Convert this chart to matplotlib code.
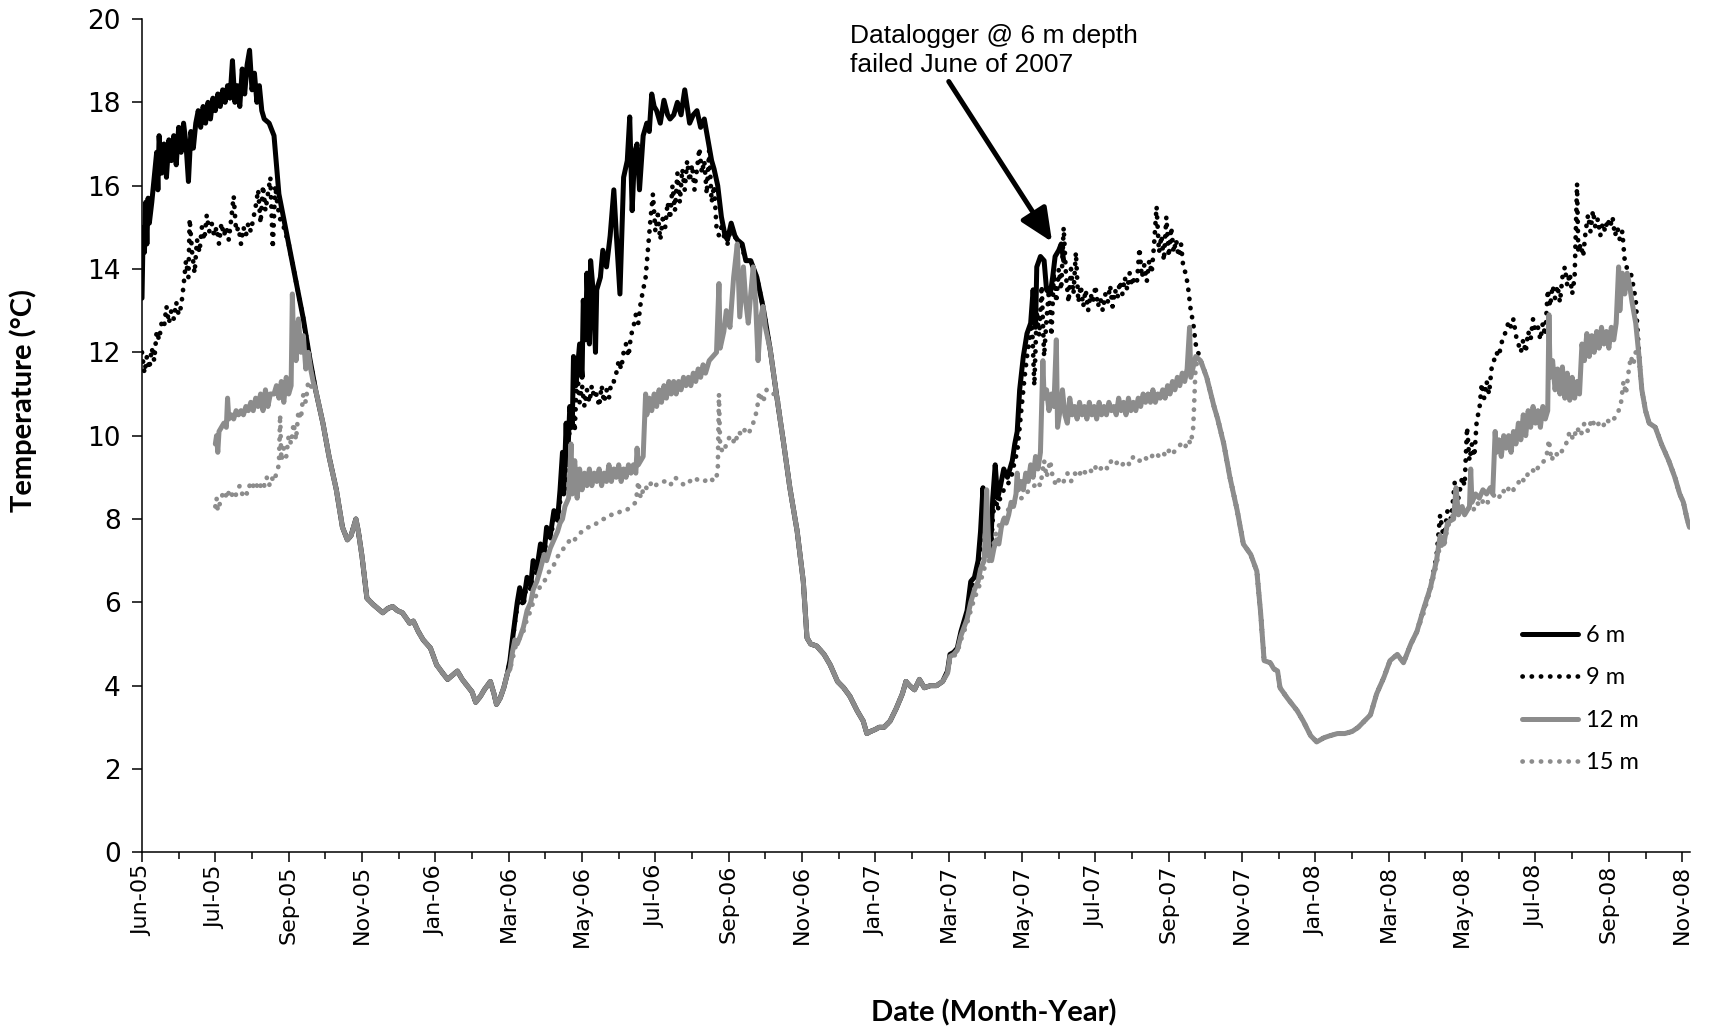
import numpy as np
import pandas as pd
import matplotlib
matplotlib.use("Agg")
import matplotlib.pyplot as plt
import matplotlib.dates as mdates
from matplotlib.lines import Line2D

# ---------------------------------------------------------------- data
START = "2005-06-01"          # day 0 of the record
X_END_DAY = 1266.4            # right end of the date axis (days after START)
TICK_STEP_DAYS = 60           # Excel-style fixed step of the date axis

series_labels = ["6 m", "9 m", "12 m", "15 m"]
y_ticks = [0, 2, 4, 6, 8, 10, 12, 14, 16, 18, 20]

# readings: (days after 2005-06-01, temperature in deg C)
# --- summer / fall 2005 (series separate)
seg_6m_2005 = [(0, 13.3), (1, 15.0), (2, 14.4), (3, 15.6), (4, 14.6), (5, 15.7), (6, 15.1), (8, 15.6),
               (10, 16.2), (12, 16.8), (13, 15.9), (14, 17.2), (16, 16.3), (18, 17.0), (20, 16.2),
               (22, 17.1), (24, 16.6), (26, 17.2), (28, 16.5), (30, 17.4), (32, 16.8), (34, 17.5),
               (36, 17.0), (38, 16.1), (40, 17.3), (42, 16.9), (44, 17.5), (46, 17.8), (48, 17.4),
               (50, 17.9), (52, 17.5), (54, 18.0), (56, 17.6), (58, 18.1), (60, 17.8), (62, 18.2),
               (64, 17.9), (66, 18.3), (68, 18.0), (70, 18.4), (72, 18.1), (74, 19.0), (76, 18.0),
               (78, 18.4), (80, 17.9), (82, 18.8), (84, 18.2), (86, 18.9), (88, 19.25), (90, 18.3),
               (92, 18.7), (94, 18.0), (96, 18.4), (98, 17.8), (100, 17.6), (104, 17.5), (108, 17.2),
               (110, 16.5), (112, 15.8), (116, 15.2), (120, 14.6), (124, 14.0), (128, 13.4),
               (132, 12.8), (137, 11.9), (142, 11.1)]
seg_9m_2005 = [(0, 12.0), (2, 11.5), (4, 11.9), (6, 11.6), (8, 12.1), (10, 11.8), (12, 12.5), (14, 12.3),
               (16, 12.7), (18, 12.6), (20, 13.1), (22, 12.7), (24, 13.0), (26, 12.8), (28, 13.2),
               (30, 12.9), (32, 13.1), (34, 13.6), (36, 14.2), (38, 13.8), (39, 15.2), (41, 14.4),
               (43, 13.9), (45, 14.7), (47, 14.4), (49, 15.0), (51, 14.7), (53, 15.3), (55, 14.9),
               (57, 15.1), (59, 14.8), (61, 15.0), (63, 14.6), (65, 15.1), (67, 14.8), (69, 15.0),
               (71, 14.7), (73, 15.2), (75, 15.75), (77, 14.9), (79, 15.0), (81, 14.6), (83, 15.0),
               (85, 14.8), (87, 15.1), (89, 14.9), (91, 15.2), (93, 15.5), (95, 15.9), (97, 15.1),
               (99, 16.0), (101, 15.4), (103, 15.8), (105, 16.2), (107, 14.5), (109, 16.0),
               (111, 15.5), (113, 15.2), (116, 15.0), (120, 14.6), (124, 14.0), (128, 13.4),
               (132, 12.8), (137, 11.9), (142, 11.1)]
seg_12m_2005 = [(60, 9.8), (61, 10.0), (62, 9.6), (63, 10.1), (65, 10.2), (67, 10.3), (69, 10.2),
                (70, 10.9), (71, 10.4), (73, 10.5), (75, 10.4), (77, 10.6), (79, 10.5), (81, 10.6),
                (83, 10.5), (85, 10.7), (87, 10.6), (89, 10.8), (91, 10.6), (93, 10.9), (95, 10.7),
                (97, 11.0), (99, 10.6), (101, 11.1), (103, 10.7), (105, 11.0), (108, 11.0),
                (110, 11.2), (112, 10.9), (114, 11.3), (116, 10.8), (118, 11.4), (120, 11.0),
                (122, 11.2), (123, 13.4), (124, 12.2), (125, 12.7), (126, 11.8), (128, 12.8),
                (130, 12.0), (132, 12.4), (134, 11.6), (136, 12.0), (138, 11.6), (140, 11.3),
                (142, 11.1)]
seg_15m_2005 = [(60, 8.3), (61, 8.5), (62, 8.2), (64, 8.4), (66, 8.6), (68, 8.5), (70, 8.7), (72, 8.5),
                (74, 8.6), (76, 8.5), (78, 8.7), (80, 8.8), (82, 8.6), (84, 8.7), (86, 8.6), (88, 8.8),
                (90, 8.7), (92, 8.9), (94, 8.8), (96, 8.7), (98, 8.9), (100, 8.8), (102, 9.0),
                (104, 8.8), (106, 9.0), (108, 8.9), (110, 9.1), (112, 9.3), (113, 10.5), (114, 9.4),
                (116, 9.7), (118, 9.5), (120, 10.0), (122, 9.8), (124, 10.3), (126, 9.9),
                (128, 10.6), (130, 10.4), (132, 11.0), (134, 10.8), (136, 11.3), (138, 11.2),
                (140, 11.1), (142, 11.1)]

# --- winter 2005-06 (all loggers on one line)
mix_winter_0506 = [(145, 10.7), (148, 10.3), (153, 9.5), (159, 8.7), (164, 7.8), (168, 7.5), (171, 7.6),
                   (175, 8.0), (177, 7.7), (180, 7.1), (184, 6.1), (189, 5.95), (193, 5.85),
                   (197, 5.75), (201, 5.85), (205, 5.9), (209, 5.8), (213, 5.75), (219, 5.5),
                   (222, 5.55), (226, 5.3), (230, 5.1), (236, 4.9), (241, 4.5), (246, 4.3),
                   (250, 4.15), (254, 4.25), (258, 4.35), (262, 4.15), (266, 4.0), (270, 3.85),
                   (273, 3.6), (277, 3.75), (280, 3.9), (285, 4.1), (288, 3.8), (290, 3.55),
                   (293, 3.7), (296, 3.95), (299, 4.3)]

# --- spring / summer 2006
seg_6m_2006 = [(301, 4.6), (303, 5.1), (305, 5.55), (307, 6.0), (309, 6.35), (312, 6.0), (315, 6.6),
               (318, 6.4), (320, 7.0), (323, 6.8), (326, 7.4), (329, 7.2), (331, 7.8), (334, 7.6),
               (337, 8.2), (340, 8.0), (342, 8.7), (344, 9.6), (345, 8.6), (347, 10.3), (348, 9.3),
               (350, 10.7), (352, 10.2), (353, 11.9), (355, 11.2), (358, 12.2), (360, 11.4),
               (361, 13.25), (363, 12.3), (364, 13.9), (366, 12.2), (367, 14.2), (369, 13.5),
               (371, 12.0), (372, 13.5), (375, 13.8), (377, 14.45), (380, 14.05), (383, 14.8),
               (386, 15.9), (388, 14.85), (391, 13.4), (394, 16.2), (397, 16.6), (399, 17.65),
               (401, 15.4), (403, 16.8), (405, 17.0), (407, 15.9), (410, 17.2), (413, 17.5),
               (415, 17.3), (417, 18.2), (419, 17.9), (421, 17.8), (424, 17.5), (427, 18.05),
               (430, 17.7), (432, 17.6), (435, 17.7), (438, 18.0), (441, 17.7), (444, 18.3),
               (446, 17.9), (448, 17.5), (451, 17.7), (454, 17.8), (457, 17.4), (460, 17.6),
               (463, 17.1), (466, 16.6), (468, 16.4), (471, 16.0), (474, 15.25), (477, 14.8),
               (479, 14.7), (482, 15.1), (485, 14.8), (487, 14.7), (491, 14.6), (494, 14.2),
               (498, 14.2), (503, 13.8), (508, 13.1), (514, 12.05), (519, 11.0)]
seg_9m_2006 = [(301, 4.6), (303, 5.0), (305, 5.5), (307, 5.9), (309, 6.2), (312, 5.9), (315, 6.5),
               (318, 6.3), (320, 6.8), (323, 6.7), (326, 7.2), (329, 7.1), (331, 7.6), (334, 7.5),
               (337, 8.0), (340, 7.9), (342, 8.4), (344, 9.2), (346, 8.7), (348, 9.5), (350, 10.2),
               (352, 10.8), (354, 10.1), (356, 11.6), (358, 10.8), (360, 11.2), (362, 10.7),
               (364, 11.1), (366, 10.8), (368, 11.2), (370, 10.9), (372, 11.0), (374, 10.7),
               (376, 11.2), (378, 10.8), (380, 11.1), (382, 10.9), (384, 11.3), (386, 11.3),
               (388, 11.5), (390, 11.8), (392, 11.6), (394, 12.0), (396, 12.2), (398, 11.9),
               (400, 12.4), (402, 12.6), (404, 12.9), (406, 12.7), (408, 13.2), (410, 13.5),
               (412, 13.8), (414, 14.5), (416, 15.2), (418, 15.8), (420, 14.9), (422, 15.3),
               (424, 14.7), (426, 15.2), (428, 15.0), (430, 15.6), (432, 15.2), (434, 16.0),
               (436, 15.4), (438, 16.3), (440, 15.6), (442, 16.4), (444, 15.9), (446, 16.6),
               (448, 16.1), (450, 16.5), (452, 15.9), (454, 16.4), (456, 16.9), (458, 16.3),
               (460, 16.6), (462, 15.8), (464, 16.85), (466, 15.6), (468, 16.0), (470, 15.0),
               (472, 14.8), (474, 15.0), (477, 14.7), (479, 14.6), (482, 15.0), (485, 14.8),
               (487, 14.6), (491, 14.5), (494, 14.2), (498, 14.2), (503, 13.8), (508, 13.1),
               (514, 12.05), (519, 11.0)]
seg_12m_2006 = [(301, 4.4), (303, 4.8), (305, 5.1), (307, 5.0), (309, 5.15), (312, 5.4), (315, 5.8),
                (318, 6.0), (320, 6.3), (323, 6.5), (326, 6.8), (329, 7.15), (331, 7.0), (334, 7.3),
                (337, 7.5), (340, 7.7), (342, 7.9), (344, 8.0), (346, 8.3), (349, 8.5), (351, 9.8),
                (352, 8.6), (354, 9.4), (356, 8.5), (358, 9.2), (360, 8.7), (362, 9.1), (364, 8.8),
                (366, 9.2), (368, 8.8), (370, 9.1), (372, 8.9), (374, 9.2), (376, 8.8), (378, 9.1),
                (380, 8.9), (382, 9.3), (384, 8.9), (386, 9.2), (388, 9.0), (390, 9.3), (392, 8.9),
                (394, 9.2), (396, 9.0), (398, 9.3), (400, 9.1), (402, 9.3), (404, 9.1), (405, 9.7),
                (406, 9.3), (408, 9.4), (410, 9.5), (412, 11.0), (413, 10.5), (415, 10.9),
                (417, 10.6), (419, 11.0), (421, 10.7), (423, 11.1), (425, 10.8), (427, 11.2),
                (429, 10.9), (431, 11.3), (433, 11.0), (435, 11.3), (437, 11.0), (439, 11.3),
                (441, 11.1), (443, 11.4), (445, 11.2), (447, 11.4), (449, 11.2), (451, 11.5),
                (453, 11.3), (455, 11.6), (457, 11.4), (459, 11.7), (461, 11.5), (464, 11.8),
                (467, 11.9), (470, 12.0), (472, 13.65), (473, 12.1), (476, 12.5), (478, 13.0),
                (481, 12.6), (484, 13.8), (487, 14.6), (489, 12.85), (492, 14.05), (494, 13.2),
                (496, 12.7), (498, 13.4), (500, 14.05), (502, 13.2), (504, 11.8), (506, 12.8),
                (508, 13.1), (510, 12.6), (514, 12.05), (519, 11.0)]
seg_15m_2006 = [(301, 4.4), (303, 4.6), (305, 4.9), (307, 5.0), (309, 5.15), (312, 5.3), (315, 5.6),
                (318, 5.8), (320, 6.0), (323, 6.2), (326, 6.4), (329, 6.5), (331, 6.6), (334, 6.8),
                (337, 6.9), (340, 7.1), (342, 7.15), (345, 7.3), (348, 7.4), (350, 7.5), (353, 7.45),
                (356, 7.6), (360, 7.7), (364, 7.8), (368, 7.8), (372, 7.9), (376, 8.0), (380, 8.0),
                (384, 8.1), (388, 8.1), (392, 8.2), (396, 8.2), (400, 8.3), (404, 8.4), (406, 8.9),
                (408, 8.5), (411, 8.8), (414, 8.7), (417, 8.9), (420, 8.8), (424, 8.9), (428, 8.9),
                (432, 8.8), (436, 9.0), (440, 8.9), (444, 8.8), (448, 8.9), (452, 9.0), (456, 8.9),
                (460, 8.9), (464, 9.0), (468, 8.9), (471, 9.1), (472, 11.0), (473, 9.7), (476, 9.6),
                (479, 9.9), (482, 10.0), (485, 9.8), (488, 10.1), (491, 10.0), (494, 10.2),
                (497, 10.1), (500, 10.3), (503, 10.6), (505, 11.05), (508, 10.8), (511, 11.1),
                (514, 11.0), (517, 11.0), (520, 10.9)]

# --- winter 2006-07 (all loggers on one line)
mix_winter_0607 = [(525, 9.8), (530, 8.75), (536, 7.7), (541, 6.5), (544, 5.15), (547, 5.0), (552, 4.95),
                   (558, 4.75), (563, 4.5), (569, 4.1), (574, 3.95), (579, 3.75), (585, 3.4),
                   (590, 3.15), (593, 2.85), (596, 2.9), (600, 2.95), (603, 3.0), (607, 3.0),
                   (612, 3.15), (617, 3.45), (622, 3.8), (625, 4.1), (628, 4.0), (632, 3.9),
                   (636, 4.15), (640, 3.95), (645, 4.0), (650, 4.0), (655, 4.1)]

# --- spring / summer 2007 (6 m logger fails in June 2007)
seg_6m_2007 = [(659, 4.35), (661, 4.75), (664, 4.8), (667, 4.9), (670, 5.3), (675, 5.8), (678, 6.5),
               (681, 6.6), (684, 7.0), (686, 7.7), (688, 8.75), (690, 7.7), (692, 7.3), (694, 7.15),
               (696, 8.5), (698, 9.3), (700, 8.5), (702, 8.75), (705, 9.2), (708, 9.0), (712, 9.4),
               (714, 9.8), (716, 10.1), (718, 11.1), (721, 11.9), (724, 12.45), (727, 12.7),
               (729, 13.5), (731, 12.6), (732, 14.05), (735, 14.3), (738, 14.2), (740, 13.5),
               (743, 13.4), (745, 13.8), (747, 14.3), (750, 14.45), (752, 14.6), (754, 14.2)]
seg_9m_2007 = [(659, 4.3), (661, 4.7), (664, 4.75), (667, 4.85), (670, 5.2), (675, 5.7), (678, 6.3),
               (681, 6.5), (684, 6.8), (686, 7.3), (688, 8.3), (690, 7.5), (692, 7.2), (694, 7.0),
               (696, 8.0), (698, 8.6), (700, 8.2), (702, 8.5), (705, 8.7), (708, 8.8), (712, 9.1),
               (714, 9.4), (716, 9.6), (718, 10.2), (720, 10.8), (722, 11.4), (724, 11.9),
               (726, 12.3), (728, 12.8), (730, 11.2), (732, 13.0), (734, 12.4), (736, 13.6),
               (738, 11.9), (740, 12.8), (742, 13.5), (744, 12.4), (746, 13.9), (748, 13.2),
               (750, 14.0), (752, 13.5), (754, 15.0), (756, 13.8), (758, 13.2), (760, 14.0),
               (762, 13.4), (764, 14.4), (766, 13.2), (768, 13.6), (770, 13.1), (772, 13.5),
               (774, 13.0), (776, 13.4), (778, 13.2), (780, 13.6), (782, 13.1), (784, 13.3),
               (786, 13.0), (788, 13.4), (790, 13.2), (792, 13.6), (794, 13.1), (796, 13.5),
               (798, 13.3), (800, 13.7), (802, 13.4), (804, 13.8), (806, 13.5), (808, 13.9),
               (810, 13.6), (812, 13.8), (814, 13.7), (816, 14.5), (818, 13.8), (820, 14.1),
               (822, 13.7), (824, 14.2), (826, 13.9), (828, 14.6), (830, 15.5), (832, 14.4),
               (834, 14.8), (836, 14.2), (838, 15.25), (840, 14.3), (842, 15.0), (844, 14.4),
               (846, 14.7), (848, 14.3), (850, 14.6), (852, 14.0), (854, 13.9), (856, 13.5),
               (858, 13.0), (860, 12.7), (862, 12.2)]
seg_12m_2007 = [(659, 4.3), (661, 4.7), (664, 4.75), (667, 4.85), (670, 5.2), (675, 5.6), (678, 6.0),
                (681, 6.3), (684, 6.5), (686, 6.8), (689, 7.0), (691, 8.7), (693, 7.1), (695, 7.0),
                (697, 7.3), (699, 7.5), (701, 7.4), (703, 7.8), (705, 8.0), (707, 7.9), (709, 8.1),
                (711, 8.4), (713, 8.3), (715, 8.6), (716, 9.1), (717, 8.7), (719, 8.9), (721, 8.7),
                (723, 9.1), (725, 8.9), (727, 9.3), (729, 9.0), (731, 9.5), (733, 9.2), (735, 9.6),
                (737, 11.8), (738, 10.9), (740, 11.1), (742, 10.6), (744, 11.0), (746, 10.7),
                (748, 12.3), (749, 10.2), (751, 10.6), (753, 11.1), (755, 10.5), (757, 10.3),
                (759, 10.9), (761, 10.5), (763, 10.7), (765, 10.4), (767, 10.8), (769, 10.5),
                (771, 10.7), (773, 10.4), (775, 10.8), (777, 10.5), (779, 10.7), (781, 10.4),
                (783, 10.8), (785, 10.5), (787, 10.7), (789, 10.5), (791, 10.8), (793, 10.6),
                (795, 10.7), (797, 10.5), (799, 10.9), (801, 10.6), (803, 10.8), (805, 10.5),
                (807, 10.9), (809, 10.6), (811, 10.8), (813, 10.6), (815, 10.9), (817, 10.7),
                (819, 11.0), (821, 10.8), (823, 11.0), (825, 10.8), (827, 11.1), (829, 10.8),
                (831, 11.0), (833, 10.9), (835, 11.1), (837, 10.9), (839, 11.2), (841, 11.0),
                (843, 11.3), (845, 11.1), (847, 11.4), (849, 11.2), (851, 11.5), (853, 11.3),
                (855, 11.6), (857, 12.6), (858, 11.4), (860, 11.65), (862, 11.9)]
seg_15m_2007 = [(659, 4.3), (661, 4.6), (664, 4.7), (667, 4.8), (670, 5.1), (675, 5.5), (678, 5.8),
                (681, 6.1), (684, 6.3), (687, 6.6), (690, 6.9), (693, 7.0), (696, 7.3), (699, 7.7),
                (702, 7.9), (705, 8.0), (708, 8.2), (711, 8.3), (714, 8.4), (717, 8.5), (720, 8.5),
                (723, 8.6), (726, 8.7), (729, 8.75), (732, 8.9), (735, 8.8), (738, 9.4), (740, 9.0),
                (743, 9.4), (745, 9.0), (748, 8.8), (751, 9.0), (754, 8.9), (757, 9.1), (760, 8.9),
                (763, 9.1), (766, 9.0), (769, 9.2), (772, 9.1), (775, 9.2), (778, 9.1), (781, 9.3),
                (784, 9.2), (787, 9.3), (790, 9.2), (793, 9.4), (796, 9.3), (799, 9.4), (802, 9.3),
                (805, 9.4), (808, 9.3), (811, 9.5), (814, 9.4), (817, 9.4), (820, 9.5), (823, 9.4),
                (826, 9.5), (829, 9.6), (832, 9.5), (835, 9.6), (838, 9.5), (841, 9.7), (844, 9.6),
                (847, 9.7), (850, 9.8), (853, 9.7), (856, 9.9), (858, 9.8), (860, 10.2), (862, 11.7)]

# --- winter 2007-08 (remaining loggers on one line)
mix_winter_0708 = [(866, 11.8), (871, 11.4), (877, 10.7), (880, 10.4), (885, 9.8), (890, 9.0), (896, 8.2),
                   (901, 7.4), (907, 7.15), (912, 6.75), (915, 5.8), (918, 4.6), (923, 4.55),
                   (926, 4.4), (929, 4.35), (931, 3.95), (937, 3.7), (941, 3.55), (945, 3.4),
                   (950, 3.15), (956, 2.8), (961, 2.65), (967, 2.75), (972, 2.8), (978, 2.85),
                   (984, 2.85), (990, 2.9), (995, 3.0), (1000, 3.15), (1005, 3.3), (1010, 3.8),
                   (1016, 4.2), (1021, 4.6), (1027, 4.75), (1032, 4.55), (1038, 5.0), (1043, 5.3)]

# --- spring / summer 2008
seg_9m_2008 = [(1048, 5.8), (1054, 6.35), (1059, 7.1), (1062, 8.1), (1065, 7.5), (1068, 8.2), (1071, 8.0),
               (1074, 8.9), (1077, 8.5), (1080, 9.0), (1082, 8.8), (1084, 10.2), (1086, 9.4),
               (1088, 9.8), (1090, 9.5), (1092, 10.4), (1094, 10.6), (1096, 11.25), (1098, 10.9),
               (1100, 11.3), (1102, 11.0), (1104, 11.6), (1106, 11.8), (1108, 12.0), (1110, 11.9),
               (1112, 12.2), (1114, 12.4), (1116, 12.5), (1118, 12.75), (1120, 12.6), (1122, 12.8),
               (1124, 12.4), (1126, 12.2), (1128, 12.0), (1130, 12.3), (1132, 12.0), (1134, 12.5),
               (1136, 12.3), (1138, 12.8), (1140, 12.5), (1142, 12.6), (1144, 12.3), (1146, 12.7),
               (1148, 12.4), (1150, 13.5), (1152, 13.1), (1154, 13.6), (1156, 13.3), (1158, 13.6),
               (1160, 13.2), (1162, 13.8), (1164, 14.05), (1166, 13.6), (1168, 13.9), (1170, 13.4),
               (1172, 13.8), (1174, 16.05), (1175, 14.4), (1177, 14.6), (1179, 14.3), (1181, 14.9),
               (1183, 15.3), (1185, 14.9), (1187, 15.4), (1189, 15.0), (1191, 15.2), (1193, 14.8),
               (1195, 15.1), (1197, 14.9), (1199, 15.2), (1201, 15.0), (1203, 15.25), (1205, 14.8),
               (1207, 15.0), (1209, 14.7), (1211, 14.9), (1213, 14.2), (1215, 14.0), (1218, 13.9),
               (1220, 13.6), (1222, 13.25)]
seg_12m_2008 = [(1048, 5.8), (1054, 6.35), (1059, 7.0), (1062, 7.6), (1065, 7.4), (1068, 7.9), (1070, 7.95),
                (1073, 8.0), (1075, 8.75), (1077, 8.1), (1080, 8.3), (1082, 8.1), (1084, 8.2),
                (1086, 8.3), (1087, 9.2), (1088, 8.4), (1091, 8.6), (1094, 8.5), (1097, 8.7),
                (1100, 8.6), (1103, 8.75), (1105, 8.6), (1107, 10.1), (1108, 9.6), (1110, 9.9),
                (1112, 9.5), (1114, 10.0), (1116, 9.7), (1118, 10.0), (1120, 9.6), (1122, 10.1),
                (1124, 9.8), (1126, 10.3), (1128, 9.9), (1130, 10.5), (1132, 10.0), (1134, 10.6),
                (1136, 10.2), (1138, 10.7), (1140, 10.3), (1142, 10.6), (1144, 10.2), (1146, 10.7),
                (1148, 10.4), (1150, 10.6), (1151, 12.9), (1152, 11.4), (1154, 11.8), (1156, 11.1),
                (1158, 11.6), (1160, 11.0), (1162, 11.65), (1164, 10.9), (1166, 11.5), (1168, 10.85),
                (1170, 11.4), (1172, 10.9), (1174, 11.3), (1176, 11.0), (1178, 12.2), (1180, 11.8),
                (1182, 12.45), (1184, 11.9), (1186, 12.4), (1188, 12.0), (1190, 12.5), (1192, 12.1),
                (1194, 12.6), (1196, 12.2), (1198, 12.5), (1200, 12.1), (1202, 12.6), (1204, 12.3),
                (1206, 12.7), (1208, 14.05), (1209, 13.0), (1211, 13.9), (1213, 13.4), (1215, 13.9),
                (1217, 13.6), (1219, 13.2), (1222, 12.7)]
seg_15m_2008 = [(1048, 5.7), (1054, 6.3), (1059, 6.9), (1062, 7.4), (1065, 7.3), (1068, 7.8), (1071, 8.0),
                (1074, 8.2), (1077, 8.1), (1080, 8.3), (1083, 8.1), (1086, 8.3), (1089, 8.2),
                (1092, 8.4), (1095, 8.3), (1098, 8.5), (1101, 8.4), (1104, 8.5), (1107, 8.6),
                (1110, 8.5), (1113, 8.7), (1116, 8.6), (1119, 8.8), (1122, 8.7), (1125, 8.8),
                (1128, 9.0), (1131, 8.9), (1134, 9.1), (1137, 9.2), (1140, 9.1), (1143, 9.3),
                (1146, 9.35), (1149, 9.5), (1151, 9.9), (1153, 9.4), (1156, 9.6), (1159, 9.5),
                (1162, 9.65), (1165, 9.8), (1168, 10.1), (1171, 9.9), (1174, 10.2), (1177, 10.0),
                (1180, 10.3), (1183, 10.1), (1186, 10.4), (1189, 10.2), (1192, 10.3), (1195, 10.2),
                (1198, 10.4), (1201, 10.3), (1204, 10.4), (1207, 10.5), (1210, 10.8), (1212, 11.3),
                (1214, 11.0), (1216, 11.5), (1218, 11.9), (1220, 11.7), (1222, 12.0)]

# --- fall 2008 (remaining loggers on one line)
mix_fall_2008 = [(1225, 11.8), (1227, 11.1), (1230, 10.6), (1233, 10.3), (1238, 10.2), (1243, 9.8),
                 (1249, 9.4), (1254, 9.0), (1258, 8.6), (1261, 8.4), (1264, 8.0), (1266, 7.8)]

annotation_text = "Datalogger @ 6 m depth\nfailed June of 2007"
arrow_tail = (660, 18.5)     # (day, deg C)
arrow_tip = (744.5, 14.65)
text_anchor = (579.5, 19.88)

# ---------------------------------------------------------------- helpers
t0 = pd.Timestamp(START)


def to_num(days):
    days = np.atleast_1d(np.asarray(days, dtype=float))
    return mdates.date2num((t0 + pd.to_timedelta(days, unit="D")).to_pydatetime())


def build(*segments):
    pts = [p for seg in segments for p in seg]
    d = np.array([p[0] for p in pts], dtype=float)
    t = np.array([p[1] for p in pts], dtype=float)
    return to_num(d), t


series = {
    "6 m": build(seg_6m_2005, mix_winter_0506, seg_6m_2006, mix_winter_0607, seg_6m_2007),
    "9 m": build(seg_9m_2005, mix_winter_0506, seg_9m_2006, mix_winter_0607, seg_9m_2007,
                 mix_winter_0708, seg_9m_2008, mix_fall_2008),
    "12 m": build(seg_12m_2005, mix_winter_0506, seg_12m_2006, mix_winter_0607, seg_12m_2007,
                  mix_winter_0708, seg_12m_2008, mix_fall_2008),
    "15 m": build(seg_15m_2005, mix_winter_0506, seg_15m_2006, mix_winter_0607, seg_15m_2007,
                  mix_winter_0708, seg_15m_2008, mix_fall_2008),
}

GRAY = "#8c8c8c"
DOT = (0, (0.05, 1.9))
styles = {
    "6 m": dict(color="black", lw=3.6, linestyle="-", solid_joinstyle="round", solid_capstyle="round"),
    "9 m": dict(color="black", lw=3.4, linestyle=DOT, dash_capstyle="round"),
    "12 m": dict(color=GRAY, lw=3.6, linestyle="-", solid_joinstyle="round", solid_capstyle="round"),
    "15 m": dict(color=GRAY, lw=3.4, linestyle=DOT, dash_capstyle="round"),
}

# ---------------------------------------------------------------- figure
fig = plt.figure(figsize=(17.11, 10.26), dpi=100)
ax = fig.add_axes([0.08299, 0.1693, 0.98773 - 0.08299, 0.98148 - 0.1693])

for name in series_labels:
    x, y = series[name]
    ax.plot(x, y, label=name, **styles[name])

# axes limits and ticks
ax.set_xlim(to_num(0)[0], to_num(X_END_DAY)[0])
ax.set_ylim(0, 20)
major_days = np.arange(0, X_END_DAY, TICK_STEP_DAYS)
minor_days = np.arange(TICK_STEP_DAYS / 2, X_END_DAY, TICK_STEP_DAYS)
ax.set_xticks(to_num(major_days))
ax.set_xticks(to_num(minor_days), minor=True)
ax.xaxis.set_major_formatter(mdates.DateFormatter("%b-%y"))
ax.tick_params(axis="x", which="major", direction="out", length=7.2, width=1.1,
               labelrotation=90, labelsize=16, pad=2)
ax.tick_params(axis="x", which="minor", direction="out", length=5.0, width=1.1)

ax.set_yticks(y_ticks)
ax.set_yticklabels([str(v) for v in y_ticks], fontsize=19, fontfamily="DejaVu Sans")
ax.tick_params(axis="y", which="major", direction="out", length=7.2, width=1.1, pad=8)

for s in ("top", "right"):
    ax.spines[s].set_visible(False)
for s in ("left", "bottom"):
    ax.spines[s].set_linewidth(1.1)

ax.set_ylabel("Temperature (\u00b0C)", fontsize=21, fontweight="bold", fontfamily="Lato")
ax.yaxis.set_label_coords(-0.0678, 0.5417)
ax.set_xlabel("Date (Month-Year)", fontsize=21, fontweight="bold", fontfamily="Lato")
ax.xaxis.set_label_coords(0.550, -0.176)

# annotation
ax.text(to_num(text_anchor[0])[0], text_anchor[1], annotation_text, ha="left", va="top",
        fontsize=19, fontfamily="Liberation Sans", linespacing=1.25)
ax.annotate("", xy=(to_num(arrow_tip[0])[0], arrow_tip[1]),
            xytext=(to_num(arrow_tail[0])[0], arrow_tail[1]),
            arrowprops=dict(arrowstyle="-|>,head_length=1.0,head_width=0.45", lw=3.6,
                            color="black", shrinkA=0, shrinkB=0, mutation_scale=20))

# legend
handles = [Line2D([], [], **styles[n]) for n in series_labels]
leg = ax.legend(handles, series_labels, loc="upper left", bbox_to_anchor=(0.8915, 0.2729),
                frameon=False, handlelength=2.35, handletextpad=0.35,
                labelspacing=0.91, borderpad=0, borderaxespad=0,
                prop={"family": "Lato", "size": 17})

fig.savefig("out.png", dpi=100)
